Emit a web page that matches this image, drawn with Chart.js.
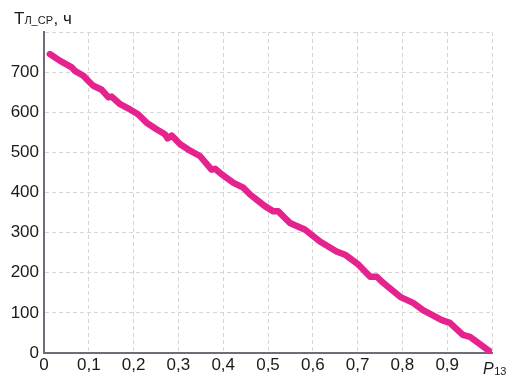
<!DOCTYPE html>
<html>
<head>
<meta charset="utf-8">
<script src="https://cdn.jsdelivr.net/npm/chart.js@4.4.1/dist/chart.umd.min.js"></script>
<style>
html,body{margin:0;padding:0;background:#fff;}
#wrap{width:508px;height:381px;}
</style>
</head>
<body>
<div id="wrap"><canvas id="c" width="508" height="381"></canvas></div>
<script>
// P13 values (x) and Tл_ср, ч values (y)
const pValues = [0.013,0.036,0.062,0.069,0.088,0.099,0.110,0.129,0.144,0.151,0.170,0.192,0.210,0.229,0.252,0.270,0.276,0.285,0.304,0.322,0.348,0.374,0.382,0.397,0.423,0.445,0.460,0.493,0.512,0.523,0.549,0.583,0.616,0.653,0.672,0.702,0.728,0.743,0.757,0.795,0.824,0.846,0.888,0.906,0.935,0.951,1.000];
const tValues = [745,728,712,703,691,678,666,656,637,639,620,607,595,574,557,545,535,542,520,507,491,457,459,445,424,412,395,366,353,353,324,307,278,253,245,220,190,190,175,140,125,107,82,75,45,40,0];
const yTicks = [0,100,200,300,400,500,600,700];
const xTicks = ['0','0,1','0,2','0,3','0,4','0,5','0,6','0,7','0,8','0,9'];
const yTitleMain = 'T', yTitleSub = 'Л_СР', yTitleTail = ', ч';
const xTitleMain = 'P', xTitleSub = '13';

const FONT = '"Liberation Sans", Arial, sans-serif';

const titles = {
  id: 'titles',
  afterDraw(chart) {
    const ctx = chart.ctx;
    ctx.save();
    ctx.fillStyle = '#1a1a1a';
    ctx.textBaseline = 'alphabetic';
    // y title
    let x = 14, y = 24;
    ctx.font = '17px ' + FONT;
    ctx.fillText(yTitleMain, x, y);
    x += ctx.measureText(yTitleMain).width;
    ctx.font = '11px ' + FONT;
    ctx.fillText(yTitleSub, x, y);
    x += ctx.measureText(yTitleSub).width + 0.5;
    ctx.font = '17px ' + FONT;
    ctx.fillText(yTitleTail, x, y);
    // x title at P=1
    const xs = chart.scales.x;
    let px = xs.getPixelForValue(1) - 9;
    const py = 374;
    ctx.font = 'italic 16px ' + FONT;
    ctx.fillText(xTitleMain, px, py);
    px += ctx.measureText(xTitleMain).width + 0.5;
    ctx.font = '11px ' + FONT;
    ctx.fillText(xTitleSub, px, py + 1);
    ctx.restore();
  }
};

new Chart(document.getElementById('c'), {
  type: 'line',
  data: {
    datasets: [{
      data: pValues.map((p, i) => ({x: p, y: tValues[i]})),
      borderColor: '#e5238e',
      borderWidth: 6.5,
      pointRadius: 0,
      tension: 0,
      borderJoinStyle: 'round',
      borderCapStyle: 'round',
      fill: false
    }]
  },
  options: {
    responsive: false,
    animation: false,
    devicePixelRatio: 1,
    layout: {padding: {top: 32, right: 16, left: 0, bottom: 0}},
    plugins: {legend: {display: false}, tooltip: {enabled: false}},
    scales: {
      x: {
        type: 'linear', min: 0, max: 1,
        afterFit: s => { s.height = 28; },
        afterBuildTicks: s => { s.ticks = xTicks.map((t, i) => ({value: i / 10})).concat([{value: 1}]); },
        ticks: {
          autoSkip: false, maxRotation: 0, padding: 2,
          color: '#1a1a1a', font: {family: FONT, size: 17},
          callback: (v, i) => (i < xTicks.length ? xTicks[i] : '')
        },
        grid: {color: '#d6d6d6', lineWidth: 1, drawTicks: false},
        border: {display: true, color: '#6e6e78', width: 2, dash: [4, 3]}
      },
      y: {
        min: 0, max: 800,
        afterFit: s => { s.width = 44; },
        afterBuildTicks: s => { s.ticks = yTicks.map(v => ({value: v})).concat([{value: 800}]); },
        ticks: {
          padding: 5, color: '#1a1a1a', font: {family: FONT, size: 17},
          callback: (v) => (yTicks.includes(v) ? String(v) : '')
        },
        grid: {color: '#d6d6d6', lineWidth: 1, drawTicks: false},
        border: {display: true, color: '#6e6e78', width: 2, dash: [4, 3]}
      }
    }
  },
  plugins: [titles]
});
</script>
</body>
</html>
